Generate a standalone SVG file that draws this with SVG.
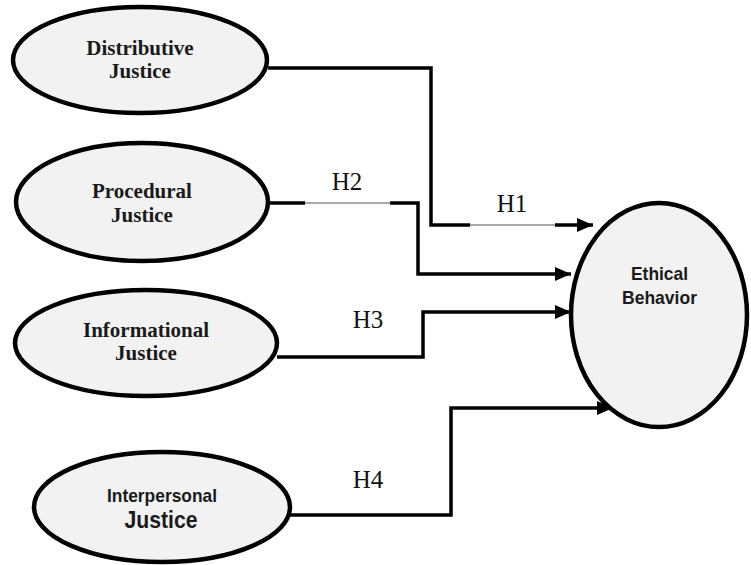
<svg xmlns="http://www.w3.org/2000/svg" width="751" height="565" viewBox="0 0 751 565">
<style>
.node{fill:#f2f2f2;stroke:#000;stroke-width:4.5}
.tn{font-family:"Liberation Serif",serif;font-weight:bold;font-size:21px;text-anchor:middle;fill:#1a1a1a}
.ta{font-family:"Liberation Sans",Arial,sans-serif;font-weight:bold;text-anchor:middle;fill:#1a1a1a}
.lbl{font-family:"Liberation Serif",serif;font-size:25px;text-anchor:middle;fill:#111}
.c{fill:none;stroke:#000;stroke-width:3.5}
.thin{fill:none;stroke:#555;stroke-width:1.2}
</style>
<defs>
<marker id="arr" markerWidth="16" markerHeight="14" refX="16" refY="7" orient="auto" markerUnits="userSpaceOnUse">
<path d="M0,0 L16,7 L0,14 Z" fill="#000"/>
</marker>
</defs>
<g id="connectors">
<path class="c" d="M268,68 H431 V225 H470"/>
<path class="thin" d="M470,225 H555"/>
<path class="c" d="M555,225 H593" marker-end="url(#arr)"/>
<path class="c" d="M268,203 H305"/>
<path class="thin" d="M305,203 H390"/>
<path class="c" d="M390,203 H418 V274 H571" marker-end="url(#arr)"/>
<path class="c" d="M277,357 H423 V312 H571" marker-end="url(#arr)"/>
<path class="c" d="M290,515 H451 V408 H613" marker-end="url(#arr)"/>
<text class="lbl" x="512" y="212">H1</text>
<text class="lbl" x="347" y="190">H2</text>
<text class="lbl" x="368" y="328">H3</text>
<text class="lbl" x="368" y="488">H4</text>
</g>
<g id="distributive">
<ellipse class="node" cx="140" cy="60" rx="127" ry="53"/>
<text class="tn" x="140" y="55">Distributive</text>
<text class="tn" x="140" y="78">Justice</text>
</g>
<g id="procedural">
<ellipse class="node" cx="142" cy="202" rx="126" ry="59"/>
<text class="tn" x="142" y="198">Procedural</text>
<text class="tn" x="142" y="222">Justice</text>
</g>
<g id="informational">
<ellipse class="node" cx="146" cy="343" rx="131" ry="53"/>
<text class="tn" x="146" y="337">Informational</text>
<text class="tn" x="146" y="360">Justice</text>
</g>
<g id="interpersonal">
<ellipse class="node" cx="162" cy="507" rx="128" ry="55"/>
<text class="ta" x="162" y="502" font-size="19" textLength="110" lengthAdjust="spacingAndGlyphs">Interpersonal</text>
<text class="ta" x="161" y="528" font-size="23" textLength="73" lengthAdjust="spacingAndGlyphs">Justice</text>
</g>
<g id="ethical">
<ellipse class="node" cx="659" cy="315" rx="88" ry="112"/>
<text class="ta" x="659.5" y="280" font-size="19" textLength="57" lengthAdjust="spacingAndGlyphs">Ethical</text>
<text class="ta" x="659.5" y="304" font-size="19" textLength="75" lengthAdjust="spacingAndGlyphs">Behavior</text>
</g>
</svg>
